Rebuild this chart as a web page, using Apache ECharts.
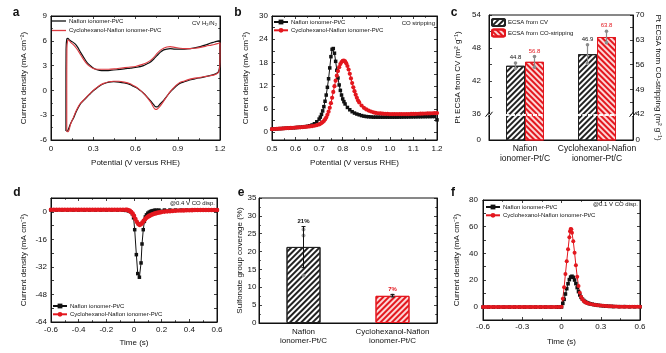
<!DOCTYPE html>
<html>
<head>
<meta charset="utf-8">
<script src="https://cdn.jsdelivr.net/npm/echarts@6.0.0/dist/echarts.min.js"></script>
<style>
  html, body { margin: 0; background: #fff; }
  #chart { width: 666px; height: 353px; }
</style>
</head>
<body>
<div id="chart"></div>
<script>
// Six-panel figure: CV, CO stripping, ECSA bars, CO displacement transients, sulfonate coverage.
const NAFION = 'Nafion ionomer-Pt/C'
const CYCLO = 'Cyclohexanol-Nafion ionomer-Pt/C'

// a: CV in H2/N2, [potential V, current density mA cm-2], anodic then cathodic sweep
const cvNafion = [[0.106,-4.9],[0.106,0],[0.107,5.0],[0.112,6.2],[0.12,6.3],[0.13,6.1],[0.15,5.9],[0.173,5.6],[0.19,5.2],[0.21,4.6],[0.232,4.0],[0.255,3.4],[0.279,3.0],[0.3,2.7],[0.326,2.5],[0.36,2.4],[0.397,2.4],[0.43,2.45],[0.468,2.5],[0.52,2.6],[0.563,2.7],[0.61,2.8],[0.657,3.0],[0.68,3.2],[0.704,3.4],[0.73,3.8],[0.752,4.2],[0.775,4.6],[0.8,4.9],[0.823,5.0],[0.846,5.05],[0.88,5.0],[0.917,5.0],[0.95,5.0],[0.988,5.05],[1.02,5.15],[1.06,5.3],[1.1,5.5],[1.13,5.7],[1.16,5.85],[1.19,6.0],[1.2,6.0],
  [1.2,4.5],[1.198,3.0],[1.19,2.3],[1.17,2.0],[1.154,1.9],[1.12,1.75],[1.083,1.6],[1.05,1.5],[1.012,1.35],[0.975,1.2],[0.94,1.0],[0.915,0.85],[0.894,0.6],[0.87,0.2],[0.846,-0.2],[0.823,-0.7],[0.8,-1.2],[0.775,-1.65],[0.755,-2.0],[0.74,-1.95],[0.728,-1.7],[0.704,-1.2],[0.68,-0.75],[0.657,-0.35],[0.633,0.0],[0.61,0.3],[0.585,0.5],[0.563,0.7],[0.52,0.9],[0.482,1.0],[0.445,1.05],[0.411,1.0],[0.374,0.8],[0.35,0.6],[0.326,0.3],[0.3,-0.05],[0.279,-0.4],[0.255,-0.8],[0.232,-1.2],[0.21,-1.6],[0.196,-2.0],[0.178,-2.6],[0.161,-3.3],[0.148,-3.7],[0.137,-4.1],[0.126,-4.6],[0.118,-4.9],[0.11,-4.95],[0.106,-4.9]]
const cvCyclo = [[0.112,-5.0],[0.112,0],[0.113,5.0],[0.118,6.0],[0.125,6.1],[0.14,5.8],[0.16,5.5],[0.18,5.1],[0.2,4.6],[0.225,3.9],[0.25,3.3],[0.275,2.9],[0.3,2.65],[0.33,2.55],[0.37,2.55],[0.41,2.55],[0.45,2.6],[0.5,2.7],[0.55,2.8],[0.6,2.9],[0.65,3.15],[0.68,3.35],[0.704,3.6],[0.73,4.0],[0.752,4.45],[0.775,4.85],[0.8,5.1],[0.823,5.25],[0.846,5.3],[0.88,5.2],[0.917,5.1],[0.95,5.05],[0.988,5.05],[1.02,5.1],[1.06,5.2],[1.1,5.35],[1.13,5.45],[1.16,5.55],[1.19,5.7],[1.2,5.75],
  [1.2,4.3],[1.198,2.9],[1.19,2.2],[1.17,1.95],[1.154,1.85],[1.12,1.75],[1.083,1.65],[1.05,1.55],[1.012,1.45],[0.975,1.3],[0.94,1.1],[0.915,0.95],[0.894,0.7],[0.87,0.3],[0.846,-0.15],[0.823,-0.7],[0.8,-1.3],[0.775,-1.9],[0.755,-2.25],[0.742,-2.3],[0.73,-2.1],[0.71,-1.5],[0.685,-0.9],[0.66,-0.4],[0.635,0.0],[0.61,0.35],[0.585,0.6],[0.563,0.8],[0.52,1.0],[0.482,1.1],[0.445,1.1],[0.411,1.05],[0.374,0.85],[0.35,0.65],[0.326,0.35],[0.3,0.0],[0.279,-0.35],[0.255,-0.75],[0.232,-1.15],[0.21,-1.55],[0.196,-1.9],[0.178,-2.5],[0.161,-3.2],[0.148,-3.7],[0.137,-4.2],[0.128,-4.8],[0.122,-5.0],[0.115,-5.0],[0.112,-5.0]]

// b: CO stripping, [potential V, current density]
const coNafion = [[0.50,0.80],[0.51,0.84],[0.52,0.88],[0.53,0.92],[0.54,0.96],[0.55,1.00],[0.56,1.04],[0.57,1.08],[0.58,1.12],[0.59,1.16],[0.60,1.20],[0.61,1.25],[0.62,1.30],[0.63,1.36],[0.64,1.44],[0.65,1.54],[0.66,1.68],[0.67,1.88],[0.68,2.2],[0.69,2.7],[0.70,3.4],[0.705,3.9],[0.71,4.6],[0.715,5.5],[0.72,6.6],[0.725,8.0],[0.73,9.6],[0.735,11.6],[0.74,13.8],[0.745,16.6],[0.75,19.5],[0.755,21.4],[0.76,21.6],[0.765,20.4],[0.77,18.3],[0.775,16.0],[0.78,14.0],[0.785,12.2],[0.79,10.8],[0.795,9.6],[0.80,8.6],[0.805,7.9],[0.81,7.3],[0.82,6.4],[0.83,5.8],[0.84,5.3],[0.85,4.95],[0.86,4.7],[0.87,4.5],[0.88,4.3],[0.89,4.15],[0.90,4.05],[0.91,4.0],[0.92,3.95],[0.93,3.9],[0.94,3.9],[0.95,3.9],[0.96,3.9],[0.97,3.9],[0.98,3.9],[0.99,3.9],[1.00,3.9],[1.01,3.9],[1.02,3.9],[1.03,3.9],[1.04,3.92],[1.05,3.92],[1.06,3.94],[1.07,3.94],[1.08,3.96],[1.09,3.96],[1.10,3.98],[1.11,3.98],[1.12,4.0],[1.13,4.0],[1.14,4.02],[1.15,4.02],[1.16,4.04],[1.17,4.04],[1.18,4.06],[1.19,4.06],[1.20,3.2]]
const coCyclo = [[0.50,0.80],[0.51,0.84],[0.52,0.88],[0.53,0.92],[0.54,0.96],[0.55,1.00],[0.56,1.04],[0.57,1.08],[0.58,1.12],[0.59,1.16],[0.60,1.20],[0.61,1.24],[0.62,1.28],[0.63,1.33],[0.64,1.38],[0.65,1.44],[0.66,1.5],[0.67,1.58],[0.68,1.68],[0.69,1.82],[0.70,2.02],[0.705,2.2],[0.71,2.4],[0.715,2.62],[0.72,2.9],[0.725,3.3],[0.73,3.8],[0.735,4.5],[0.74,5.3],[0.745,6.3],[0.75,7.5],[0.755,8.9],[0.76,10.4],[0.765,11.9],[0.77,13.3],[0.775,14.6],[0.78,15.8],[0.785,16.8],[0.79,17.6],[0.795,18.1],[0.80,18.4],[0.805,18.5],[0.81,18.3],[0.815,17.8],[0.82,17.1],[0.825,16.2],[0.83,15.1],[0.835,13.9],[0.84,12.7],[0.845,11.6],[0.85,10.6],[0.855,9.7],[0.86,8.9],[0.865,8.2],[0.87,7.7],[0.88,6.9],[0.89,6.3],[0.90,5.9],[0.91,5.6],[0.92,5.35],[0.93,5.15],[0.94,5.0],[0.95,4.9],[0.96,4.85],[0.97,4.8],[0.98,4.75],[0.99,4.75],[1.00,4.7],[1.01,4.7],[1.02,4.7],[1.03,4.7],[1.04,4.7],[1.05,4.7],[1.06,4.7],[1.07,4.7],[1.08,4.7],[1.09,4.72],[1.10,4.74],[1.11,4.76],[1.12,4.78],[1.13,4.8],[1.14,4.82],[1.15,4.84],[1.16,4.86],[1.17,4.88],[1.18,4.9],[1.19,4.92],[1.20,4.95]]

// c: Pt ECSA (m2 g-1), CV on the left axis, CO stripping on the right axis
const ecsaGroups = ['Nafion\nionomer-Pt/C', 'Cyclohexanol-Nafion\nionomer-Pt/C']
const ecsaCv = [44.8, 46.9]
const ecsaCvErr = [0.5, 1.7]
const ecsaCo = [56.8, 63.8]
const ecsaCoErr = [1.5, 1.6]
const ecsaCvLabels = ['44.8', '46.9']
const ecsaCoLabels = ['56.8', '63.8']

// d: CO displacement at 0.4 V, [time s, current density]
const d04Nafion = [[-0.60,1.0],[-0.56,1.0],[-0.52,1.0],[-0.48,1.0],[-0.44,1.0],[-0.40,1.0],[-0.36,1.0],[-0.32,1.0],[-0.28,1.0],[-0.24,1.0],[-0.20,1.0],[-0.16,1.0],[-0.12,1.0],[-0.08,0.9],[-0.06,0.8],[-0.04,0.5],[-0.025,0.0],[-0.012,-1.2],[-0.003,-3.5],[0.005,-10.4],[0.017,-24.9],[0.027,-35.9],[0.039,-38.0],[0.051,-29.7],[0.058,-18.7],[0.067,-10.4],[0.075,-5.6],[0.082,-3.0],[0.09,-1.8],[0.10,-0.8],[0.11,-0.2],[0.12,0.2],[0.13,0.5],[0.14,0.7],[0.15,0.85],[0.16,0.95],[0.18,1.0],[0.22,1.0],[0.26,1.0],[0.30,1.0],[0.34,1.0],[0.38,1.0],[0.42,1.0],[0.46,1.0],[0.50,1.0],[0.54,1.0],[0.58,1.0],[0.60,1.0]]
const d04Cyclo = [[-0.60,1.2],[-0.58,1.2],[-0.56,1.2],[-0.54,1.2],[-0.52,1.2],[-0.50,1.2],[-0.48,1.2],[-0.46,1.2],[-0.44,1.2],[-0.42,1.2],[-0.40,1.2],[-0.38,1.2],[-0.36,1.2],[-0.34,1.2],[-0.32,1.2],[-0.30,1.2],[-0.28,1.2],[-0.26,1.2],[-0.24,1.2],[-0.22,1.2],[-0.20,1.2],[-0.18,1.2],[-0.16,1.2],[-0.14,1.2],[-0.12,1.2],[-0.10,1.2],[-0.08,1.2],[-0.06,1.15],[-0.05,1.1],[-0.04,0.9],[-0.03,0.5],[-0.02,-0.1],[-0.01,-1.0],[0.0,-2.4],[0.01,-4.2],[0.02,-5.8],[0.03,-7.0],[0.04,-7.6],[0.05,-7.2],[0.06,-6.3],[0.07,-5.3],[0.08,-4.3],[0.09,-3.5],[0.10,-2.9],[0.11,-2.4],[0.12,-2.0],[0.13,-1.6],[0.14,-1.3],[0.15,-1.0],[0.16,-0.8],[0.17,-0.6],[0.18,-0.4],[0.19,-0.25],[0.20,-0.1],[0.22,0.1],[0.24,0.25],[0.26,0.35],[0.28,0.5],[0.30,0.6],[0.32,0.7],[0.34,0.75],[0.36,0.8],[0.38,0.85],[0.40,0.9],[0.42,0.95],[0.44,1.0],[0.46,1.0],[0.48,1.0],[0.50,1.0],[0.52,1.0],[0.54,1.0],[0.56,1.0],[0.58,1.0],[0.60,1.0]]

// e: sulfonate group coverage (%)
const coverageGroups = ['Nafion\nionomer-Pt/C', 'Cyclohexanol-Nafion\nionomer-Pt/C']
const coverage = [21.3, 7.6]
const coverageLow = [15.5, 7.3]
const coverageHigh = [27.0, 8.0]
const coverageLabels = ['21%', '7%']
const coveragePoints = [[0, 26.2], [0, 24.5], [0, 13.3], [1, 7.7]]

// f: CO displacement at 0.1 V, [time s, current density]
const d01Nafion = [[-0.60,-0.3],[-0.56,-0.3],[-0.52,-0.3],[-0.48,-0.3],[-0.44,-0.3],[-0.40,-0.3],[-0.36,-0.3],[-0.32,-0.3],[-0.28,-0.3],[-0.24,-0.3],[-0.20,-0.3],[-0.16,-0.3],[-0.12,-0.3],[-0.08,-0.3],[-0.04,-0.3],[-0.02,-0.3],[0.0,-0.2],[0.01,2.5],[0.02,5.5],[0.03,9.5],[0.04,13.5],[0.05,17.2],[0.06,20.3],[0.07,22.2],[0.08,22.8],[0.09,22.0],[0.10,20.0],[0.11,17.3],[0.12,14.3],[0.13,11.3],[0.14,8.8],[0.15,7.0],[0.16,5.6],[0.17,4.6],[0.18,3.8],[0.19,3.2],[0.20,2.8],[0.21,2.4],[0.22,2.1],[0.235,1.8],[0.25,1.5],[0.265,1.2],[0.28,1.0],[0.30,0.8],[0.32,0.6],[0.34,0.45],[0.36,0.3],[0.38,0.2],[0.40,0.1],[0.44,0.0],[0.48,0.0],[0.52,-0.1],[0.56,-0.1],[0.60,-0.1]]
const d01Cyclo = [[-0.60,-0.3],[-0.58,-0.3],[-0.56,-0.3],[-0.54,-0.3],[-0.52,-0.3],[-0.50,-0.3],[-0.48,-0.3],[-0.46,-0.3],[-0.44,-0.3],[-0.42,-0.3],[-0.40,-0.3],[-0.38,-0.3],[-0.36,-0.3],[-0.34,-0.3],[-0.32,-0.3],[-0.30,-0.3],[-0.28,-0.3],[-0.26,-0.3],[-0.24,-0.3],[-0.22,-0.3],[-0.20,-0.3],[-0.18,-0.3],[-0.16,-0.3],[-0.14,-0.3],[-0.12,-0.3],[-0.10,-0.3],[-0.08,-0.3],[-0.06,-0.3],[-0.04,-0.3],[-0.02,-0.3],[0.0,0.0],[0.01,6.0],[0.02,14.5],[0.03,24.5],[0.04,34.0],[0.05,43.0],[0.06,52.0],[0.065,56.5],[0.07,58.2],[0.075,58.0],[0.08,55.5],[0.09,49.0],[0.10,40.5],[0.11,31.0],[0.12,22.5],[0.13,15.5],[0.14,10.5],[0.15,7.5],[0.16,5.5],[0.17,4.3],[0.18,3.5],[0.19,3.0],[0.20,2.6],[0.22,2.0],[0.24,1.6],[0.26,1.3],[0.28,1.1],[0.30,0.9],[0.32,0.7],[0.34,0.55],[0.36,0.4],[0.38,0.3],[0.40,0.2],[0.42,0.1],[0.44,0.0],[0.46,0.0],[0.48,-0.1],[0.50,-0.1],[0.52,-0.1],[0.54,-0.1],[0.56,-0.1],[0.58,-0.1],[0.60,-0.1]]

const FONT = 'Liberation Sans'
const BLACK = '#111111'
const RED = '#e3171e'
const GREY = '#8c8c8c'
const TICK = {color: BLACK, width: 0.8}

const grid = [
  {left: 51, top: 16, width: 169, height: 124},   // a
  {left: 272, top: 16, width: 165, height: 124},  // b
  {left: 489, top: 15, width: 144, height: 125},  // c
  {left: 51, top: 198, width: 166, height: 124},  // d
  {left: 259, top: 198, width: 178, height: 125}, // e
  {left: 483, top: 200, width: 157, height: 120}, // f
].map((g) => ({...g, show: true, borderColor: BLACK, borderWidth: 1, backgroundColor: 'transparent'}))

const xAxis = []
const yAxis = []
const push = (list, axis) => list.push(axis) - 1

const fixed1 = (v) => (Math.abs(v) < 1e-9 ? '0' : v.toFixed(1))

const valueAxis = (gridIndex, o) => ({
  type: 'value',
  gridIndex,
  min: o.min,
  max: o.max,
  interval: o.interval,
  position: o.position,
  name: o.name,
  nameLocation: 'middle',
  nameGap: o.nameGap,
  nameRotate: o.nameRotate,
  nameTextStyle: {fontSize: 8, fontFamily: FONT, color: BLACK},
  splitLine: {show: false},
  axisLine: {show: true, onZero: false, lineStyle: {color: BLACK, width: 1}},
  axisTick: {show: true, inside: true, length: 3, lineStyle: TICK, customValues: o.ticks},
  minorTick: {show: !!o.minor, splitNumber: 2, length: 1.8, lineStyle: TICK},
  axisLabel: {
    show: !o.mirror, fontSize: 8, fontFamily: FONT, color: BLACK,
    margin: o.margin ?? 4, formatter: o.fmt, customValues: o.labels,
  },
})

const categoryAxis = (gridIndex, data, o) => ({
  type: 'category',
  gridIndex,
  data,
  axisLine: {show: true, lineStyle: {color: BLACK, width: 1}},
  axisTick: {show: false},
  splitLine: {show: false},
  axisLabel: {interval: 0, fontSize: o.fontSize, lineHeight: o.lineHeight, fontFamily: FONT, color: BLACK, margin: o.margin},
})

// mirrored top/right axes only carry inside ticks
const boxAxes = (g, xo, yo) => {
  const x = push(xAxis, valueAxis(g, xo))
  push(xAxis, valueAxis(g, {...xo, position: 'top', mirror: true, name: undefined}))
  const y = push(yAxis, valueAxis(g, yo))
  push(yAxis, valueAxis(g, {...yo, position: 'right', mirror: true, name: undefined}))
  return [x, y]
}

const YNAME = 'Current density (mA cm⁻²)'

const [ax, ay] = boxAxes(0,
  {min: 0, max: 1.2, interval: 0.3, minor: true, fmt: fixed1, name: 'Potential (V versus RHE)', nameGap: 19, margin: 5},
  {min: -6, max: 9, interval: 3, minor: true, name: YNAME, nameGap: 23, margin: 4})
const [bx, by] = boxAxes(1,
  {min: 0.5, max: 1.2, interval: 0.1, minor: true, fmt: fixed1, name: 'Potential (V versus RHE)', nameGap: 19, margin: 5},
  {min: -2, max: 30, labels: [0, 6, 12, 18, 24, 30], ticks: [0, 3, 6, 9, 12, 15, 18, 21, 24, 27, 30], name: YNAME, nameGap: 22, margin: 4})

// c: broken axes, the lower stub stands for 0..36 (left) and 0..42 (right)
const cx = push(xAxis, categoryAxis(2, ecsaGroups, {fontSize: 8.5, lineHeight: 10.5, margin: 3}))
const cyL = push(yAxis, valueAxis(2, {
  min: 31.34, max: 54, labels: [31.34, 36, 42, 48, 54], ticks: [31.34, 36, 39, 42, 45, 48, 51, 54],
  fmt: (v) => (v < 35 ? '0' : String(v)), name: 'Pt ECSA from CV (m² g⁻¹)', nameGap: 27, margin: 8,
}))
const cyR = push(yAxis, valueAxis(2, {
  min: 34.75, max: 70, position: 'right', labels: [34.75, 42, 49, 56, 63, 70], ticks: [34.75, 42, 45.5, 49, 52.5, 56, 59.5, 63, 66.5, 70],
  fmt: (v) => (v < 40 ? '0' : String(v)), name: 'Pt ECSA from CO-stripping (m² g⁻¹)', nameGap: 21, nameRotate: -90, margin: 2.5,
}))

const [dx, dy] = boxAxes(3,
  {min: -0.6, max: 0.6, interval: 0.2, minor: true, fmt: fixed1, name: 'Time (s)', nameGap: 17, margin: 3.5},
  {min: -64, max: 8, labels: [-64, -48, -32, -16, 0], ticks: [-64, -56, -48, -40, -32, -24, -16, -8, 0, 8], name: YNAME, nameGap: 23, margin: 4})

const ex = push(xAxis, categoryAxis(4, coverageGroups, {fontSize: 8, lineHeight: 9, margin: 4}))
const ey = push(yAxis, valueAxis(4, {min: 0, max: 35, interval: 5, minor: true, name: 'Sulfonate group coverage (%)', nameGap: 10, margin: 2.5}))
push(yAxis, valueAxis(4, {min: 0, max: 35, interval: 5, minor: true, position: 'right', mirror: true}))

const [fx, fy] = boxAxes(5,
  {min: -0.6, max: 0.6, interval: 0.3, minor: true, fmt: fixed1, name: 'Time (s)', nameGap: 18, margin: 3},
  {min: -10, max: 80, labels: [0, 20, 40, 60, 80], ticks: [-10, 0, 10, 20, 30, 40, 50, 60, 70, 80], name: YNAME, nameGap: 22, margin: 5})

const hatch = (color, rotation) => ({
  symbol: 'rect', symbolSize: 1, color, dashArrayX: [1, 0], dashArrayY: [1.4, 2], rotation,
})
const blackBar = {color: '#ffffff', borderColor: '#222', borderWidth: 1, decal: hatch('#222', -Math.PI / 4)}
const redBar = {color: '#fcd6d6', borderColor: RED, borderWidth: 1, decal: hatch(RED, Math.PI / 4)}
const redBarE = {color: '#fcd6d6', borderColor: RED, borderWidth: 1, decal: hatch(RED, -Math.PI / 4)}

const curve = (name, x, y, data, color, symbol, size, extra = {}) => ({
  name, type: 'line', xAxisIndex: x, yAxisIndex: y, data,
  symbol, symbolSize: size, showSymbol: symbol !== 'none',
  lineStyle: {color, width: 1}, itemStyle: {color, borderWidth: 0},
  animation: false, z: 3, ...extra,
})

// grey error whiskers with end dots and a value label above
const ecsaError = (offset, labels, labelColor) => (params, api) => {
  const lo = api.coord([api.value(0), api.value(1)])
  const hi = api.coord([api.value(0), api.value(2)])
  const x = lo[0] + offset
  return {
    type: 'group',
    children: [
      {type: 'line', shape: {x1: x, y1: lo[1], x2: x, y2: hi[1]}, style: {stroke: GREY, lineWidth: 1.2}},
      {type: 'circle', shape: {cx: x, cy: lo[1], r: 1.8}, style: {fill: GREY}},
      {type: 'circle', shape: {cx: x, cy: hi[1], r: 1.8}, style: {fill: GREY}},
      {type: 'text', style: {text: labels[params.dataIndex], x, y: hi[1] - 2.5, align: 'center', verticalAlign: 'bottom',
        fill: labelColor, font: `6px ${FONT}`}},
    ],
  }
}

const coverageError = (params, api) => {
  const lo = api.coord([api.value(0), api.value(1)])
  const hi = api.coord([api.value(0), api.value(2)])
  const i = params.dataIndex
  return {
    type: 'group',
    children: [
      {type: 'line', shape: {x1: lo[0], y1: lo[1], x2: hi[0], y2: hi[1]}, style: {stroke: BLACK, lineWidth: 1}},
      {type: 'line', shape: {x1: lo[0] - 2, y1: lo[1], x2: lo[0] + 2, y2: lo[1]}, style: {stroke: BLACK, lineWidth: 1}},
      {type: 'line', shape: {x1: hi[0] - 2, y1: hi[1], x2: hi[0] + 2, y2: hi[1]}, style: {stroke: BLACK, lineWidth: 1}},
      {type: 'text', style: {text: coverageLabels[i], x: hi[0], y: hi[1] - 2.5, align: 'center', verticalAlign: 'bottom',
        fill: i === 0 ? BLACK : RED, font: `bold 6px ${FONT}`}},
    ],
  }
}

const series = [
  curve('a:' + NAFION, ax, ay, cvNafion, BLACK, 'none', 0, {smooth: 0.25, lineStyle: {color: BLACK, width: 1.2}}),
  curve('a:' + CYCLO, ax, ay, cvCyclo, '#dc3a40', 'none', 0, {smooth: 0.25, lineStyle: {color: '#dc3a40', width: 1.1}}),

  curve('b:' + NAFION, bx, by, coNafion, BLACK, 'rect', 3.5),
  curve('b:' + CYCLO, bx, by, coCyclo, RED, 'circle', 4.2),

  {
    name: 'c:ECSA from CV', type: 'bar', xAxisIndex: cx, yAxisIndex: cyL, data: ecsaCv,
    barWidth: 19, barGap: '0%', itemStyle: blackBar, animation: false,
    markLine: {silent: true, symbol: 'none', label: {show: false}, z: 20,
      lineStyle: {color: '#ffffff', width: 1.6, type: [4, 1.5]}, data: [{yAxis: 36}]},
  },
  {
    name: 'c:ECSA from CO-stripping', type: 'bar', xAxisIndex: cx, yAxisIndex: cyR, data: ecsaCo,
    barWidth: 19, barGap: '0%', itemStyle: redBar, animation: false,
    markLine: {silent: true, symbol: 'none', label: {show: false}, z: 20,
      lineStyle: {color: '#ffffff', width: 1.6, type: [4, 1.5]}, data: [{yAxis: 42}]},
  },
  {
    type: 'custom', xAxisIndex: cx, yAxisIndex: cyL, z: 5, animation: false,
    data: ecsaCv.map((v, i) => [i, v - ecsaCvErr[i], v + ecsaCvErr[i]]),
    renderItem: ecsaError(-9.5, ecsaCvLabels, BLACK),
  },
  {
    type: 'custom', xAxisIndex: cx, yAxisIndex: cyR, z: 5, animation: false,
    data: ecsaCo.map((v, i) => [i, v - ecsaCoErr[i], v + ecsaCoErr[i]]),
    renderItem: ecsaError(9.5, ecsaCoLabels, RED),
  },

  curve('d:' + NAFION, dx, dy, d04Nafion, BLACK, 'rect', 3.5),
  curve('d:' + CYCLO, dx, dy, d04Cyclo, RED, 'circle', 4.6),

  {
    type: 'bar', xAxisIndex: ex, yAxisIndex: ey, barWidth: 34, animation: false,
    data: coverage.map((v, i) => ({value: v, itemStyle: i === 0 ? blackBar : redBarE})),
  },
  {
    type: 'scatter', xAxisIndex: ex, yAxisIndex: ey, data: coveragePoints, z: 4,
    symbolSize: 4, itemStyle: {color: GREY}, animation: false,
  },
  {
    type: 'custom', xAxisIndex: ex, yAxisIndex: ey, z: 5, animation: false,
    data: coverage.map((v, i) => [i, coverageLow[i], coverageHigh[i]]),
    renderItem: coverageError,
  },

  curve('f:' + NAFION, fx, fy, d01Nafion, BLACK, 'rect', 3.6),
  curve('f:' + CYCLO, fx, fy, d01Cyclo, RED, 'circle', 4),
]

const legend = (prefix, names, left, top, extra = {}) => ({
  data: names.map((n) => prefix + n),
  formatter: (n) => n.slice(2),
  orient: 'vertical', left, top, padding: 0,
  itemWidth: 14, itemHeight: 6, itemGap: 2.3, selectedMode: false,
  textStyle: {fontSize: 6, color: BLACK, fontFamily: FONT, padding: [0, 0, 0, -2]},
  ...extra,
})

const letter = (text, x, y) => ({
  type: 'text', x, y, silent: true,
  style: {text, font: `bold 12px ${FONT}`, fill: BLACK, align: 'center', verticalAlign: 'middle'},
})
const note = (text, x, y) => ({
  type: 'text', x, y, silent: true,
  style: {text, font: `6px ${FONT}`, fill: BLACK, align: 'right', verticalAlign: 'middle'},
})

const chart = echarts.init(document.getElementById('chart'))
chart.setOption({
  animation: false,
  textStyle: {fontFamily: FONT},
  grid,
  xAxis,
  yAxis,
  series,
  legend: [
    legend('a:', [NAFION, CYCLO], 52, 18, {icon: 'rect', itemHeight: 1.3, itemGap: 3.5}),
    legend('b:', [NAFION, CYCLO], 273, 19),
    legend('c:', ['ECSA from CV', 'ECSA from CO-stripping'], 491, 18, {itemWidth: 13, itemHeight: 7, itemGap: 1.5}),
    legend('d:', [NAFION, CYCLO], 52, 303),
    legend('f:', [NAFION, CYCLO], 485, 204),
  ],
  graphic: [
    letter('a', 16, 13), letter('b', 238, 13), letter('c', 454, 13),
    letter('d', 17, 193), letter('e', 241, 193), letter('f', 453, 193),
    note('CV H₂/N₂', 217, 23),
    note('CO stripping', 435, 23),
    note('@0.4 V CO disp.', 215, 203),
    note('@0.1 V CO disp.', 638, 204),
  ],
})

// axis-break marks on both sides of panel c
const yBreak = chart.convertToPixel({yAxisIndex: cyL}, 36)
const breakMark = (x) => [-1.5, 1.5].map((d) => ({
  type: 'line', silent: true, z: 30,
  shape: {x1: x + d - 2, y1: yBreak + 2.5, x2: x + d + 2, y2: yBreak - 2.5},
  style: {stroke: BLACK, lineWidth: 1},
}))
chart.setOption({
  graphic: [
    ...chart.getOption().graphic[0].elements,
    ...breakMark(grid[2].left), ...breakMark(grid[2].left + grid[2].width),
  ],
})
</script>
</body>
</html>
